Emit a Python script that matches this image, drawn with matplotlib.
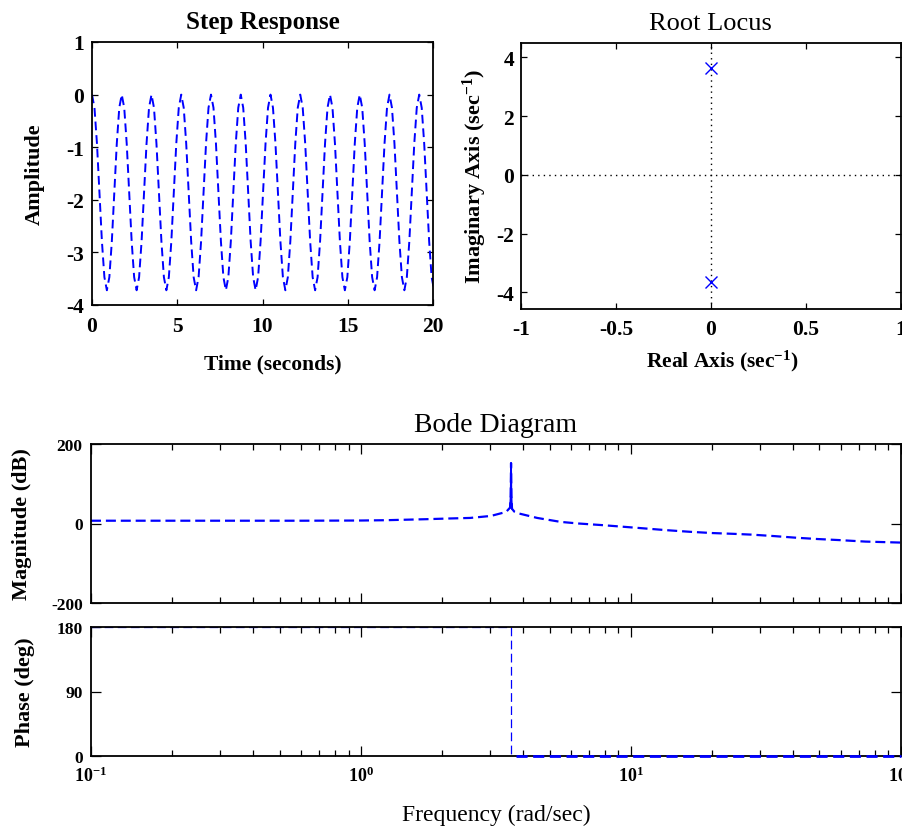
import numpy as np
import matplotlib
matplotlib.use("Agg")
import matplotlib.pyplot as plt
from matplotlib.ticker import FixedLocator, NullFormatter, LogLocator

plt.rcParams['font.family'] = ['Liberation Serif', 'DejaVu Serif']
plt.rcParams['mathtext.fontset'] = 'custom'
plt.rcParams['mathtext.rm'] = 'Liberation Serif'
plt.rcParams['mathtext.bf'] = 'Liberation Serif:bold'
plt.rcParams['mathtext.it'] = 'Liberation Serif:italic'
plt.rcParams['axes.unicode_minus'] = False

# ---------------- data ----------------
step_dt = 0.1454
step_amplitude = [
    0, -0.25, -0.93, -1.86, -2.79, -3.47, -3.72, -3.47, -2.79, -1.86, -0.93, -0.25,
    0, -0.25, -0.93, -1.86, -2.79, -3.47, -3.72, -3.47, -2.79, -1.86, -0.93, -0.25,
    0, -0.25, -0.93, -1.86, -2.79, -3.47, -3.72, -3.47, -2.79, -1.86, -0.93, -0.25,
    0, -0.25, -0.93, -1.86, -2.79, -3.47, -3.72, -3.47, -2.79, -1.86, -0.93, -0.25,
    0, -0.25, -0.93, -1.86, -2.79, -3.47, -3.72, -3.47, -2.79, -1.86, -0.93, -0.25,
    0, -0.25, -0.93, -1.86, -2.79, -3.47, -3.72, -3.47, -2.79, -1.86, -0.93, -0.25,
    0, -0.25, -0.93, -1.86, -2.79, -3.47, -3.72, -3.47, -2.79, -1.86, -0.93, -0.25,
    0, -0.25, -0.93, -1.86, -2.79, -3.47, -3.72, -3.47, -2.79, -1.86, -0.93, -0.25,
    0, -0.25, -0.93, -1.86, -2.79, -3.47, -3.72, -3.47, -2.79, -1.86, -0.93, -0.25,
    0, -0.25, -0.93, -1.86, -2.79, -3.47, -3.72, -3.47, -2.79, -1.86, -0.93, -0.25,
    0, -0.25, -0.93, -1.86, -2.79, -3.47, -3.72, -3.47, -2.79, -1.86, -0.93, -0.25,
    0, -0.25, -0.93, -1.86, -2.79, -3.47, -3.72,
]
time_ticks = [0, 5, 10, 15, 20]
time_labels = ['0', '5', '10', '15', '20']
amp_ticks = [1, 0, -1, -2, -3, -4]
amp_labels = ['1', '0', '-1', '-2', '-3', '-4']

# Root locus poles
pole_real = [0.0, 0.0]
pole_imag = [3.65, -3.65]
rl_xticks = [-1, -0.5, 0, 0.5, 1]
rl_xlabels = ['-1', '-0.5', '0', '0.5', '1']
rl_yticks = [-4, -2, 0, 2, 4]
rl_ylabels = ['-4', '-2', '0', '2', '4']

# Bode magnitude
bode_freq = [0.1, 0.3, 0.6, 1.0, 1.24, 1.74, 2.1, 2.54, 3.03, 3.45, 3.57, 3.59,
             3.6, 3.61, 3.63, 3.7, 3.86, 4.5, 5.5, 6.4, 7.8, 9.3, 11.3, 13.5,
             16.5, 20, 24, 28, 34, 41, 49, 59, 74, 100]
bode_mag = [7, 7, 7, 7.5, 8.3, 10.8, 12.5, 14, 19, 29, 40, 70,
            152, 70, 37, 30, 25, 14, 4, 0, -4, -8, -12.5, -16.7,
            -20.8, -24, -26, -28, -31.7, -35.8, -39, -41.7, -45.5, -48]
# Bode phase
phase_freq = [0.1, 3.6, 3.6, 3.75, 100]
phase_deg = [180, 180, 0, 0, 0]

mag_ticks = [-200, 0, 200]
phase_ticks = [0, 90, 180]
freq_ticks = [0.1, 1, 10, 100]
freq_labels = [r'$\mathbf{10^{-1}}$', r'$\mathbf{10^{0}}$', r'$\mathbf{10^{1}}$', r'$\mathbf{10^{2}}$']

# ---------------- figure ----------------
W, H = 902, 829
fig = plt.figure(figsize=(W / 100, H / 100), dpi=100)

def rect(l, t, r, b):
    return [l / W, 1 - b / H, (r - l) / W, (b - t) / H]

BLUE = (0, 0, 1)

def style_ticks(ax, size=15):
    ax.tick_params(direction='in', top=True, right=True, length=4, width=0.9,
                   labelsize=size)
    for lab in ax.get_xticklabels() + ax.get_yticklabels():
        lab.set_fontweight('bold')
    for s in ax.spines.values():
        s.set_linewidth(1.3)

# Step response
ax1 = fig.add_axes(rect(92, 43, 433, 306))
t = np.arange(len(step_amplitude)) * step_dt
ln, = ax1.plot(t, step_amplitude, color=BLUE, lw=1.4, ls='--')
ln.set_dashes((4.5, 2.5))
ax1.set_xlim(0, 20)
ax1.set_ylim(-4, 1)
ax1.set_xticks(time_ticks)
ax1.set_xticklabels(time_labels)
ax1.set_yticks(amp_ticks)
ax1.set_yticklabels(amp_labels)
style_ticks(ax1, 15.5)
ax1.tick_params(axis='x', pad=8)
ax1.tick_params(axis='y', pad=6)
ax1.set_title('Step Response', fontsize=18, fontweight='bold', pad=10)
ax1.set_xlabel('Time (seconds)', fontsize=15.5, fontweight='bold')
ax1.set_ylabel('Amplitude', fontsize=16, fontweight='bold')
ax1.xaxis.set_label_coords(0.53, -0.224)
ax1.xaxis.label.set_va('center')
ax1.yaxis.set_label_coords(-0.167, 0.5)
ax1.yaxis.label.set_va('center')

# Root locus
ax2 = fig.add_axes(rect(521, 44, 900.5, 310))
ax2.axhline(0, color='black', lw=1.0, ls=(0, (1, 3)))
ax2.axvline(0, color='black', lw=1.0, ls=(0, (1, 3)))
ax2.plot(pole_real, pole_imag, ls='none', marker='x', ms=8, mew=1.0, color=BLUE)
ax2.set_xlim(-1, 1)
ax2.set_ylim(-4.57, 4.49)
ax2.set_xticks(rl_xticks)
ax2.set_xticklabels(rl_xlabels)
ax2.set_yticks(rl_yticks)
ax2.set_yticklabels(rl_ylabels)
style_ticks(ax2, 15.5)
ax2.tick_params(axis='x', pad=7)
ax2.tick_params(axis='y', pad=5)
ax2.set_title('Root Locus', fontsize=19, pad=10)
ax2.set_xlabel(r'Real Axis (sec$^{\mathbf{-1}}$)', fontsize=15.5, fontweight='bold')
ax2.set_ylabel(r'Imaginary Axis (sec$^{\mathbf{-1}}$)', fontsize=16, fontweight='bold')
ax2.xaxis.set_label_coords(0.532, -0.195)
ax2.xaxis.label.set_va('center')
ax2.yaxis.set_label_coords(-0.121, 0.5)
ax2.yaxis.label.set_va('center')

# Bode magnitude
ax3 = fig.add_axes(rect(91, 445, 900.7, 604))
ax3.set_xscale('log')
f = np.array(bode_freq)
m = np.array(bode_mag)
ln3, = ax3.plot(f, m, color=BLUE, lw=1.6, ls='--')
ln3.set_dashes((4.5, 2.2))
spike = (f >= 3.57) & (f <= 3.63)
ax3.plot(f[spike], m[spike], color=BLUE, lw=1.3, ls='-')
ax3.set_xlim(0.1, 100)
ax3.set_ylim(-200, 200)
ax3.set_yticks(mag_ticks)
ax3.set_yticklabels([str(v) for v in mag_ticks])
ax3.xaxis.set_major_locator(FixedLocator(freq_ticks))
ax3.xaxis.set_minor_locator(LogLocator(base=10, subs=np.arange(2, 10)))
ax3.xaxis.set_major_formatter(NullFormatter())
ax3.xaxis.set_minor_formatter(NullFormatter())
style_ticks(ax3, 12.5)
ax3.tick_params(which='major', length=7)
ax3.tick_params(which='minor', direction='in', top=True, length=4, width=0.9)
ax3.tick_params(axis='y', pad=6)
ax3.set_title('Bode Diagram', fontsize=20, pad=9)
ax3.set_ylabel('Magnitude (dB)', fontsize=16, fontweight='bold')
ax3.yaxis.set_label_coords(-0.085, 0.5)
ax3.yaxis.label.set_va('center')

# Bode phase
ax4 = fig.add_axes(rect(91, 628, 900.7, 757))
ax4.set_xscale('log')
pf = np.array(phase_freq)
pd_ = np.array(phase_deg)
ln4, = ax4.plot(pf, pd_, color=BLUE, lw=0.9, ls='--', zorder=2)
ln4.set_dashes((7, 3.5))
zero = (pd_ == 0) & (pf > 3.6)
ln5, = ax4.plot(pf[zero], pd_[zero], color=BLUE, lw=2.0, ls='--', zorder=3, clip_on=False)
ln5.set_dashes((4, 2))
ax4.set_xlim(0.1, 100)
ax4.set_ylim(0, 180)
ax4.set_yticks(phase_ticks)
ax4.set_yticklabels([str(v) for v in phase_ticks])
ax4.xaxis.set_major_locator(FixedLocator(freq_ticks))
ax4.xaxis.set_minor_locator(LogLocator(base=10, subs=np.arange(2, 10)))
ax4.set_xticklabels(freq_labels)
ax4.xaxis.set_minor_formatter(NullFormatter())
style_ticks(ax4, 12.5)
ax4.tick_params(which='major', length=7)
ax4.tick_params(which='minor', direction='in', top=True, length=4, width=0.9)
ax4.tick_params(axis='x', pad=7, labelsize=13)
ax4.tick_params(axis='y', pad=6)
ax4.set_xlabel('Frequency (rad/sec)', fontsize=17)
ax4.set_ylabel('Phase (deg)', fontsize=16, fontweight='bold')
ax4.xaxis.set_label_coords(0.501, -0.45)
ax4.xaxis.label.set_va('center')
ax4.yaxis.set_label_coords(-0.082, 0.5)
ax4.yaxis.label.set_va('center')

fig.savefig('out.png', dpi=100)
